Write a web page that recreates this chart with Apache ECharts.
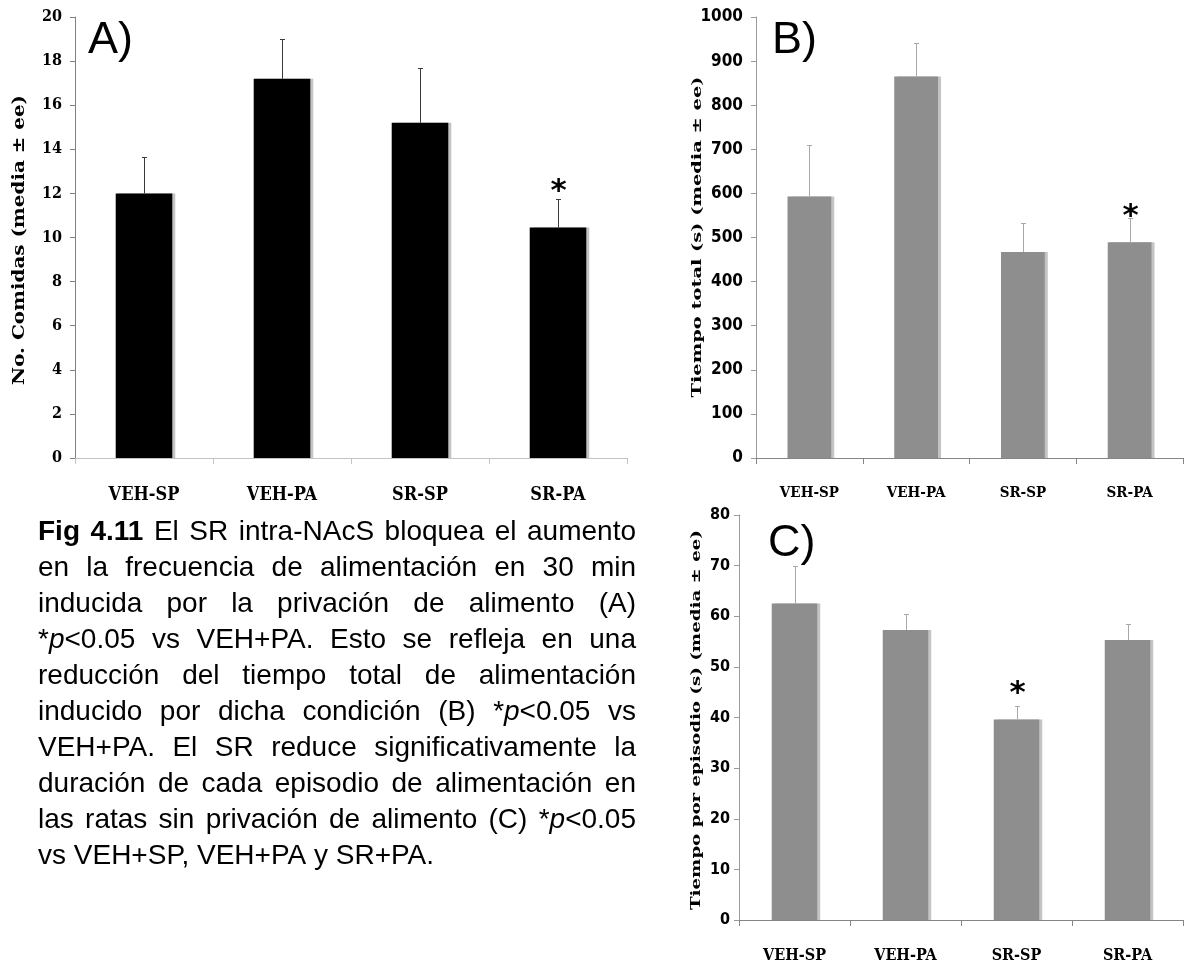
<!DOCTYPE html>
<html>
<head>
<meta charset="utf-8">
<script src="https://cdn.jsdelivr.net/npm/echarts@6/dist/echarts.min.js"></script>
<style>
  html, body { margin: 0; padding: 0; background: #ffffff; }
  #chart { width: 1186px; height: 964px; }
</style>
</head>
<body>
<div id="chart"></div>
<script>
// ---------------- data ----------------
const categories = ['VEH-SP', 'VEH-PA', 'SR-SP', 'SR-PA'];

// Panel A: No. Comidas
const mealsMean = [12.0, 17.2, 15.2, 10.45];
const mealsSem  = [1.65, 1.8, 2.5, 1.3];
const mealsSig  = ['', '', '', '*'];
const mealsAxis = { min: 0, max: 20, interval: 2 };

// Panel B: Tiempo total (s)
const totalMean = [593, 865, 467, 489];
const totalSem  = [116, 75, 67, 55];
const totalSig  = ['', '', '', '*'];
const totalAxis = { min: 0, max: 1000, interval: 100 };

// Panel C: Tiempo por episodio (s)
const episodeMean = [62.5, 57.3, 39.6, 55.3];
const episodeSem  = [7.5, 3.2, 2.6, 3.2];
const episodeSig  = ['', '', '*', ''];
const episodeAxis = { min: 0, max: 80, interval: 10 };

const axisTitles = [
  'No. Comidas (media \u00b1 ee)',
  'Tiempo total (s) (media \u00b1 ee)',
  'Tiempo por episodio (s) (media \u00b1 ee)'
];
const panelTags = ['A)', 'B)', 'C)'];

// caption: {b|..} bold, {i|..} italic
const captionLines = [
  '{b|Fig} {b|4.11} El SR intra-NAcS bloquea el aumento',
  'en la frecuencia de alimentaci\u00f3n en 30 min',
  'inducida por la privaci\u00f3n de alimento (A)',
  '*{i|p}<0.05 vs VEH+PA. Esto se refleja en una',
  'reducci\u00f3n del tiempo total de alimentaci\u00f3n',
  'inducido por dicha condici\u00f3n (B) *{i|p}<0.05 vs',
  'VEH+PA. El SR reduce significativamente la',
  'duraci\u00f3n de cada episodio de alimentaci\u00f3n en',
  'las ratas sin privaci\u00f3n de alimento (C) *{i|p}<0.05',
  'vs VEH+SP, VEH+PA y SR+PA.'
];

// ---------------- styling / layout ----------------
const SLAB = "'DejaVu Serif Condensed', 'DejaVu Serif', serif";
const NARROW = "'Liberation Sans Narrow', 'DejaVu Sans Condensed', sans-serif";
const ARIAL = "'Liberation Sans', Arial, sans-serif";

const panels = [
  {
    mean: mealsMean, sem: mealsSem, sig: mealsSig, axis: mealsAxis,
    grid: { left: 75, top: 17, width: 552, height: 441 },
    barColor: '#000000', errColor: '#3a3a3a', xLine: '#c3c3c3', yLine: '#808080',
    yFont: SLAB, yFontSize: 16, yMargin: 13, xFontSize: 18,
    starOff: 8,
    title: { x: 20, y: 240, len: 290, size: 16 },
    tag: { x: 88, y: 41 }
  },
  {
    mean: totalMean, sem: totalSem, sig: totalSig, axis: totalAxis,
    grid: { left: 756, top: 17, width: 427, height: 441 },
    barColor: '#8e8e8e', errColor: '#a8a8a8', xLine: '#858585', yLine: '#9a9a9a',
    yFont: NARROW, yFontSize: 17, yMargin: 13, xFontSize: 15,
    starOff: 2,
    title: { x: 698, y: 237, len: 321, size: 13 },
    tag: { x: 772, y: 41 }
  },
  {
    mean: episodeMean, sem: episodeSem, sig: episodeSig, axis: episodeAxis,
    grid: { left: 739, top: 515, width: 444, height: 407 },
    barColor: '#8e8e8e', errColor: '#a8a8a8', xLine: '#858585', yLine: '#9a9a9a',
    yFont: NARROW, yFontSize: 16, yMargin: 9, xFontSize: 16,
    starOff: 13,
    title: { x: 697, y: 720, len: 380, size: 13 },
    tag: { x: 768, y: 544 }
  }
];

const measureCtx = document.createElement('canvas').getContext('2d');
function textWidth(str, font) {
  measureCtx.font = font;
  return measureCtx.measureText(str).width;
}

function makeRender(p) {
  return function (params, api) {
    const i = api.value(0);
    const m = api.value(1);
    const s = api.value(2);
    const base = api.coord([i, m]);
    const top = api.coord([i, m + s]);
    const x = Math.round(base[0]) + 0.5;
    const yTop = Math.round(top[1]) + 0.5;
    const children = [
      { type: 'line', shape: { x1: x, y1: base[1], x2: x, y2: yTop },
        style: { stroke: p.errColor, lineWidth: 1 } },
      { type: 'line', shape: { x1: x - 2.5, y1: yTop, x2: x + 2.5, y2: yTop },
        style: { stroke: p.errColor, lineWidth: 1 } }
    ];
    const mark = p.sig[params.dataIndex];
    if (mark) {
      children.push({
        type: 'text', x: x, y: yTop - p.starOff,
        style: { text: mark, align: 'center', verticalAlign: 'middle',
                 font: "bold 31px 'DejaVu Sans', sans-serif", fill: '#000' }
      });
    }
    return { type: 'group', children: children };
  };
}

const grids = [], xAxes = [], yAxes = [], series = [], graphics = [];

panels.forEach(function (p, k) {
  grids.push(Object.assign({ containLabel: false }, p.grid));
  xAxes.push({
    type: 'category', gridIndex: k, data: categories,
    axisLine: { lineStyle: { color: p.xLine, width: 1 } },
    axisTick: { show: true, length: 6, lineStyle: { color: p.xLine } },
    axisLabel: { interval: 0, margin: 28, color: '#000', fontWeight: 'bold',
                 fontFamily: SLAB, fontSize: p.xFontSize },
    splitLine: { show: false }
  });
  yAxes.push({
    type: 'value', gridIndex: k,
    min: p.axis.min, max: p.axis.max, interval: p.axis.interval,
    axisLine: { show: true, lineStyle: { color: p.yLine, width: 1 } },
    axisTick: { show: true, length: 5, lineStyle: { color: p.yLine } },
    axisLabel: { margin: p.yMargin, color: '#000', fontWeight: 'bold',
                 fontFamily: p.yFont, fontSize: p.yFontSize,
                 formatter: function (v) { return String(v); } },
    splitLine: { show: false }
  });
  series.push({
    type: 'bar', xAxisIndex: k, yAxisIndex: k,
    data: p.mean, barWidth: '41%',
    itemStyle: { color: p.barColor, shadowColor: '#c4c4c4', shadowOffsetX: 3, shadowBlur: 0 },
    emphasis: { disabled: true }, animation: false
  });
  series.push({
    type: 'custom', xAxisIndex: k, yAxisIndex: k, z: 5,
    data: p.mean.map(function (m, i) { return [i, m, p.sem[i]]; }),
    renderItem: makeRender(p), animation: false, silent: true
  });

  // rotated axis title, stretched along its length
  const tFont = "bold " + p.title.size + "px 'DejaVu Serif', serif";
  const natural = textWidth(axisTitles[k], tFont);
  graphics.push({
    type: 'text', x: p.title.x, y: p.title.y, rotation: Math.PI / 2,
    scaleX: p.title.len / natural, silent: true,
    style: { text: axisTitles[k], align: 'center', verticalAlign: 'middle',
             font: tFont, fill: '#000' }
  });
  // panel tag
  graphics.push({
    type: 'text', x: p.tag.x, y: p.tag.y, silent: true,
    style: { text: panelTags[k], align: 'left', verticalAlign: 'middle',
             font: "45px " + ARIAL, fill: '#000' }
  });
});

// ---------------- justified caption ----------------
const CAP_SIZE = 28;
const CAP_LEFT = 38, CAP_RIGHT = 636, CAP_TOP = 532, CAP_STEP = 36;
function runFont(kind) {
  if (kind === 'b') return 'bold ' + CAP_SIZE + 'px ' + ARIAL;
  if (kind === 'i') return 'italic ' + CAP_SIZE + 'px ' + ARIAL;
  return CAP_SIZE + 'px ' + ARIAL;
}
function wordWidth(word) {
  const re = /\{(\w)\|([^}]*)\}|([^{]+)/g;
  let w = 0, mt;
  while ((mt = re.exec(word)) !== null) {
    if (mt[1]) w += textWidth(mt[2], runFont(mt[1]));
    else w += textWidth(mt[3], runFont(''));
  }
  return w;
}
const richStyles = {
  b: { fontFamily: ARIAL, fontSize: CAP_SIZE, fontWeight: 'bold', fill: '#000' },
  i: { fontFamily: ARIAL, fontSize: CAP_SIZE, fontStyle: 'italic', fill: '#000' }
};
const spaceW = textWidth(' ', runFont(''));
captionLines.forEach(function (line, li) {
  const words = line.split(' ');
  const widths = words.map(wordWidth);
  const total = widths.reduce(function (a, b) { return a + b; }, 0);
  const isLast = li === captionLines.length - 1;
  let gap = (isLast || words.length < 2) ? spaceW
            : (CAP_RIGHT - CAP_LEFT - total) / (words.length - 1);
  if (gap < spaceW * 0.6) gap = spaceW * 0.6;
  let x = CAP_LEFT;
  const y = CAP_TOP + li * CAP_STEP;
  words.forEach(function (w, wi) {
    graphics.push({
      type: 'text', x: x, y: y, silent: true,
      style: { text: w, align: 'left', verticalAlign: 'middle',
               fontFamily: ARIAL, fontSize: CAP_SIZE, fill: '#000', rich: richStyles }
    });
    x += widths[wi] + gap;
  });
});

const chart = echarts.init(document.getElementById('chart'), null, { renderer: 'canvas' });
chart.setOption({
  backgroundColor: '#ffffff',
  animation: false,
  grid: grids,
  xAxis: xAxes,
  yAxis: yAxes,
  series: series,
  graphic: graphics
});
</script>
</body>
</html>
